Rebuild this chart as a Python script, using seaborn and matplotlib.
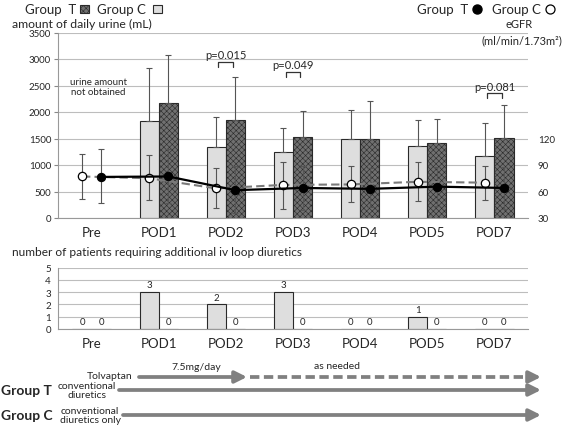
import numpy as np
import pandas as pd
import seaborn as sns
import matplotlib.pyplot as plt
from matplotlib.patches import Rectangle

days = ["Pre", "POD1", "POD2", "POD3", "POD4", "POD5", "POD7"]

# daily urine (mL), mean and upper SD end
urine_c = [np.nan, 1825, 1345, 1250, 1490, 1360, 1165]
urine_t = [np.nan, 2170, 1855, 1520, 1490, 1415, 1505]
urine_c_hi = [np.nan, 2830, 1900, 1690, 2040, 1855, 1790]
urine_t_hi = [np.nan, 3080, 2665, 2010, 2215, 1875, 2140]

# eGFR (ml/min/1.73m2), mean with low / high SD ends
egfr_c = [77, 75, 63.5, 67.5, 68, 71, 70]
egfr_c_lo = [52, 50.5, 41, 40, 48.5, 49, 50.5]
egfr_c_hi = [102.5, 101, 87, 93.5, 88.5, 93.5, 89]
egfr_t = [76.5, 77, 61.5, 64, 63, 65.5, 64]
egfr_t_lo = [46.5, 46.5, 36, 39.5, 42.5, 44, 40]
egfr_t_hi = [108.5, 108.5, 89, 89, 87, 87.5, 87.5]

# patients needing extra iv loop diuretics
extra_c = [0, 3, 2, 3, 0, 1, 0]
extra_t = [0, 0, 0, 0, 0, 0, 0]

pvals = {"POD2": ("p=0.015", 3080), "POD3": ("p=0.049", 2890), "POD7": ("p=0.081", 2490)}

sns.set_style("white")
plt.rcParams["font.family"] = ["Lato", "DejaVu Sans"]
plt.rcParams["hatch.linewidth"] = 0.4

light = "#dedede"
dark = "#707070"
edge = "#2a2a2a"
grid_c = "#bdbdbd"
arrow_c = "#808080"
err_c = "#555555"

fig = plt.figure(figsize=(5.67, 4.27), dpi=100)
ax = fig.add_axes([58 / 567, 1 - 219 / 427, 470 / 567, 185.5 / 427])
axb = fig.add_axes([58 / 567, 1 - 330 / 427, 470 / 567, 61.5 / 427])


def style_axis(a):
    a.set_xlim(-0.5, 6.5)
    a.yaxis.grid(True, color=grid_c, lw=0.8)
    a.set_axisbelow(True)
    a.set_xlabel("")
    a.set_ylabel("")
    a.tick_params(axis="y", labelsize=7, length=3, color="#888888", pad=2)
    a.tick_params(axis="x", labelsize=9.5, length=0, pad=6)
    a.set_xticks(np.arange(-0.5, 7, 1), minor=True)
    a.tick_params(axis="x", which="minor", length=3, color="#999999")
    for s in ["top", "right"]:
        a.spines[s].set_visible(False)
    for s in ["left", "bottom"]:
        a.spines[s].set_color("#999999")
        a.spines[s].set_linewidth(0.8)


# ---- top panel: urine bars
urine_df = pd.DataFrame({
    "day": days * 2,
    "group": ["C"] * 7 + ["T"] * 7,
    "urine": urine_c + urine_t,
})
sns.barplot(data=urine_df, x="day", y="urine", hue="group", order=days,
            hue_order=["C", "T"], palette={"C": light, "T": dark}, width=0.57,
            edgecolor=edge, linewidth=0.8, errorbar=None, legend=False, ax=ax)
for bar in ax.containers[1]:
    bar.set_hatch("xxxxxx")

off = 0.1425
xc = np.arange(7) - off
xt = np.arange(7) + off
uc = np.array(urine_c)
ut = np.array(urine_t)
ax.errorbar(xc, uc, yerr=[np.zeros(7), np.array(urine_c_hi) - uc], fmt="none",
            ecolor=err_c, elinewidth=0.8, capsize=2.5, capthick=0.8, zorder=3)
ax.errorbar(xt, ut, yerr=[np.zeros(7), np.array(urine_t_hi) - ut], fmt="none",
            ecolor=err_c, elinewidth=0.8, capsize=2.5, capthick=0.8, zorder=3)

ax.set_ylim(0, 3500)
ax.set_yticks(range(0, 3501, 500))
style_axis(ax)

ax.text(0.1, 2480, "urine amount\nnot obtained", ha="center", va="center",
        fontsize=7, linespacing=1.1)

for day, (label, ytxt) in pvals.items():
    i = days.index(day)
    ax.text(i, ytxt, label, ha="center", va="center", fontsize=8)
    yb = ytxt - 130
    ax.plot([i - 0.11, i - 0.11, i + 0.11, i + 0.11], [yb - 100, yb, yb, yb - 100],
            color="#333333", lw=0.9)

# ---- eGFR on right axis
ax2 = ax.twinx()
ax2.set_ylim(30, 240)
ec = np.array(egfr_c)
et = np.array(egfr_t)
ax2.errorbar(xc, ec, yerr=[ec - np.array(egfr_c_lo), np.array(egfr_c_hi) - ec],
             fmt="none", ecolor=err_c, elinewidth=0.8, capsize=2.5, capthick=0.8)
ax2.errorbar(xt, et, yerr=[et - np.array(egfr_t_lo), np.array(egfr_t_hi) - et],
             fmt="none", ecolor=err_c, elinewidth=0.8, capsize=2.5, capthick=0.8)
sns.lineplot(x=xc, y=ec, ax=ax2, color="#7a7a7a", lw=1.5, linestyle=(0, (4, 2)),
             marker="o", markersize=6, markerfacecolor="white",
             markeredgecolor="black", markeredgewidth=0.9, zorder=5)
sns.lineplot(x=xt, y=et, ax=ax2, color="black", lw=1.6,
             marker="o", markersize=6, markerfacecolor="black",
             markeredgecolor="black", zorder=6)
ax2.set_yticks([30, 60, 90, 120])
ax2.tick_params(axis="y", labelsize=7, length=0, pad=7)
for s in ax2.spines.values():
    s.set_visible(False)
ax2.set_xlim(-0.5, 6.5)

# ---- bottom panel: extra diuretics
extra_df = pd.DataFrame({
    "day": days * 2,
    "group": ["C"] * 7 + ["T"] * 7,
    "n": extra_c + extra_t,
})
sns.barplot(data=extra_df, x="day", y="n", hue="group", order=days,
            hue_order=["C", "T"], palette={"C": light, "T": light}, width=0.57,
            edgecolor=edge, linewidth=0.8, errorbar=None, legend=False, ax=axb)
for cont in axb.containers:
    axb.bar_label(cont, fmt="%d", padding=2, fontsize=7)
axb.set_ylim(0, 5)
axb.set_yticks(range(0, 6))
style_axis(axb)

# ---- overlay in pixel coordinates for texts, legends and timeline
ov = fig.add_axes([0, 0, 1, 1])
ov.set_xlim(0, 567)
ov.set_ylim(427, 0)
ov.axis("off")
ov.patch.set_alpha(0)

ov.text(12, 24.5, "amount of daily urine (mL)", fontsize=8.8, va="center")
ov.text(12, 253, "number of patients requiring additional iv loop diuretics",
        fontsize=8.6, va="center")
ov.text(519, 24, "eGFR", fontsize=8, ha="center", va="center")
ov.text(522, 41, "(ml/min/1.73m²)", fontsize=8, ha="center", va="center")

# legend for bars (text first, swatch after)
ov.text(25, 10, "Group  T", fontsize=9.5, va="center")
ov.add_patch(Rectangle((80, 5.5), 8.5, 8.5, facecolor=dark, edgecolor=edge,
                       hatch="xxxxxx", lw=0.8))
ov.text(97, 10, "Group C", fontsize=9.5, va="center")
ov.add_patch(Rectangle((153, 5.5), 8.5, 8.5, facecolor=light, edgecolor=edge, lw=0.8))

# legend for eGFR
ov.text(417, 10, "Group  T", fontsize=9.5, va="center")
ov.plot([476.5], [10], marker="o", ms=6.5, mfc="black", mec="black", ls="")
ov.text(492, 10, "Group C", fontsize=9.5, va="center")
ov.plot([550], [10], marker="o", ms=6.5, mfc="white", mec="black", mew=0.9, ls="")

# treatment timeline
ov.text(132, 377, "Tolvaptan", fontsize=7.5, ha="right", va="center")
ov.text(196, 368, "7.5mg/day", fontsize=7.5, ha="center", va="center")
ov.text(337, 367, "as needed", fontsize=7.5, ha="center", va="center")
ov.text(1, 391, "Group T", fontsize=10, fontweight="bold", va="center")
ov.text(87, 391, "conventional\ndiuretics", fontsize=7.5, ha="center",
        va="center", linespacing=0.95)
ov.text(1, 416, "Group C", fontsize=10, fontweight="bold", va="center")
ov.text(90, 416, "conventional\ndiuretics only", fontsize=7.5, ha="center",
        va="center", linespacing=0.95)

aprops = dict(arrowstyle="-|>,head_length=0.7,head_width=0.35", lw=2.7,
              color=arrow_c, shrinkA=0, shrinkB=0)
ov.annotate("", xy=(247, 378), xytext=(139, 378), arrowprops=aprops)
ov.plot([250, 530], [378, 378], color=arrow_c, lw=2.7, ls=(0, (2.5, 1.2)))
ov.annotate("", xy=(541, 378), xytext=(528, 378), arrowprops=aprops)
ov.annotate("", xy=(541, 391), xytext=(119, 391), arrowprops=aprops)
ov.annotate("", xy=(541, 416), xytext=(123, 416), arrowprops=aprops)

fig.savefig("out.png", dpi=100)
